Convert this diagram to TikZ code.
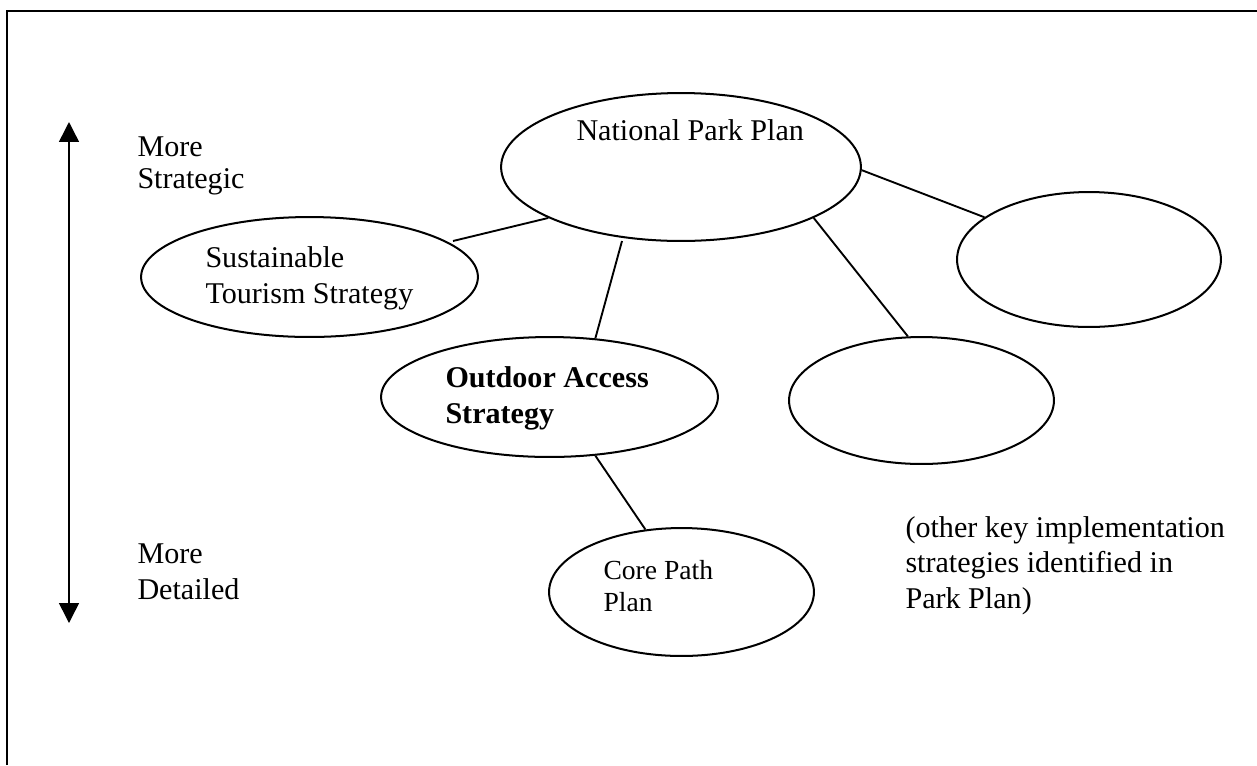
\documentclass[tikz,border=0pt]{standalone}
\usepackage{fontspec}
\setmainfont{Liberation Serif}
\usetikzlibrary{shapes,arrows.meta}
\tikzstyle{plan} = [ellipse, draw, line width=0.8pt, inner sep=0pt]
\tikzstyle{words} = [anchor=base west, align=left, inner sep=0pt, font=\fontsize{12}{14}\selectfont]
\tikzstyle{line} = [draw, line width=0.75pt]
\tikzstyle{frame} = [line width=1.1pt]
\tikzstyle{axisarrow} = [line width=0.6pt, {Triangle[width=0.28cm,length=0.28cm]}-{Triangle[width=0.28cm,length=0.28cm]}]

\begin{document}
\begin{tikzpicture}[x=0.014cm, y=-0.014cm]
\useasboundingbox (0,0) rectangle (1257,765);
\draw [frame] (7,765) -- (7,11) -- (1257,11);

% strategic / detailed scale
\coordinate (up) at (69,122);
\coordinate (down) at (69,623);
\draw [axisarrow] (up) -- (down);
\node [words, font=\fontsize{12}{12.6}\selectfont] at (137,188) (strategic) {More\\Strategic};
\node [words] at (137,599) (detailed) {More\\Detailed};

% plans
\node [plan, minimum width=5.04cm, minimum height=2.072cm] at (681,167) (npp) {};
\node [words] at (576,140) (npptext) {National Park Plan};

\node [plan, minimum width=4.718cm, minimum height=1.68cm] at (309.5,277) (sust) {};
\node [words] at (205,303) (susttext) {Sustainable\\Tourism Strategy};

\node [plan, minimum width=3.696cm, minimum height=1.89cm] at (1089,259.5) (other) {};

\node [plan, minimum width=4.718cm, minimum height=1.68cm] at (549.5,397) (oas) {};
\node [words, font=\fontsize{12}{14}\selectfont\bfseries] at (445,423) (oastext) {Outdoor Access\\Strategy};

\node [plan, minimum width=3.71cm, minimum height=1.778cm] at (921.5,400.5) (mid) {};

\node [plan, minimum width=3.71cm, minimum height=1.792cm] at (681.5,592) (core) {};
\node [words, font=\fontsize{11}{12.5}\selectfont] at (603,611) (coretext) {Core Path\\Plan};

\node [words] at (905,608) (note) {(other key implementation\\strategies identified in\\Park Plan)};

% links
\coordinate (sustend) at (453,241);
\coordinate (oasend) at (622,241);
\path [line] (sustend) to (npp.201);
\path [line] (oas.52) to (oasend);
\path [line] (npp.339) to (mid.102);
\path [line] (npp.359) to (other.158);
\path [line] (oas.308) to (core.120);

\end{tikzpicture}
\end{document}
